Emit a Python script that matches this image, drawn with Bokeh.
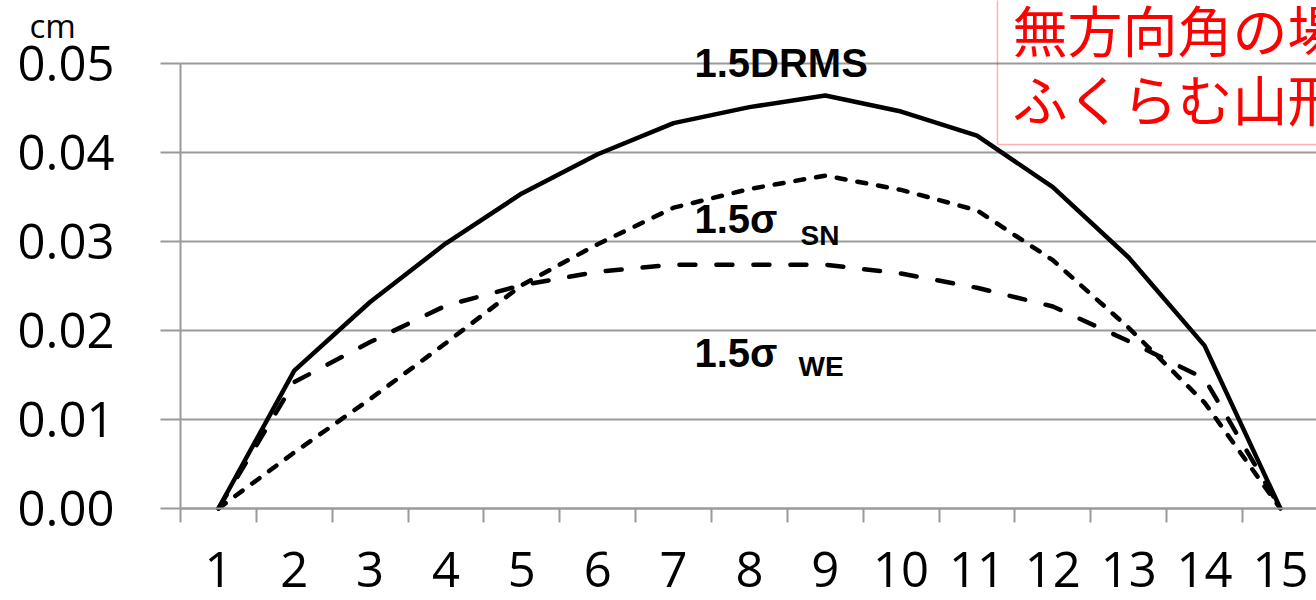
from bokeh.plotting import figure
from bokeh.models import (FixedTicker, Label, BoxAnnotation, NumeralTickFormatter,
                          Range1d)
from bokeh.embed import file_html
from bokeh.resources import INLINE

# ---- data ----
points = list(range(1, 16))
drms = [0.0, 0.0155, 0.0232, 0.0298, 0.0354, 0.0398, 0.0433, 0.0451, 0.0464,
        0.0446, 0.0419, 0.0361, 0.0282, 0.0183, 0.0]
sigma_sn = [0.0, 0.0063, 0.0123, 0.0186, 0.0251, 0.0297, 0.0338, 0.0359, 0.0374,
            0.0358, 0.0335, 0.0279, 0.0203, 0.0119, 0.0]
sigma_we = [0.0, 0.0142, 0.0187, 0.0228, 0.0251, 0.0266, 0.0274, 0.0274, 0.0274,
            0.0264, 0.0248, 0.0227, 0.0188, 0.0146, 0.0]
y_ticks = [0.0, 0.01, 0.02, 0.03, 0.04, 0.05]
x_bounds = [i + 0.5 for i in range(0, 16)]
unit_label = "cm"
label_drms = "1.5DRMS"
label_sigma = "1.5σ"
sub_sn = "SN"
sub_we = "WE"
note_lines = ["無方向角の場", "ふくらむ山形"]

GRID = "#9a9a9a"
TICK_FONT = "Open Sans"
PX_X = 75.857   # pixels per category
PX_Y = 8900.0   # pixels per unit of y
X_START = 0.5 - 180 / PX_X
X_END = 15.476
Y_START = -92 / PX_Y
Y_END = 0.05 + 63 / PX_Y

# the frame fills the whole canvas; axes are pinned inside it
p = figure(width=1316, height=600,
           x_range=Range1d(X_START, X_END), y_range=Range1d(Y_START, Y_END),
           output_backend="svg", toolbar_location=None,
           min_border=0, min_border_left=0, min_border_right=0,
           min_border_top=0, min_border_bottom=0)
p.outline_line_color = None
p.background_fill_color = "white"
p.border_fill_color = "white"

# x axis
xa = p.xaxis[0]
xa.fixed_location = 0
xa.bounds = (0.5, 15.5)
xa.ticker = FixedTicker(ticks=points, minor_ticks=x_bounds)
xa.major_tick_out = 0
xa.major_tick_in = 0
xa.minor_tick_out = 14
xa.minor_tick_in = 0
xa.minor_tick_line_color = GRID
xa.minor_tick_line_width = 2
xa.axis_line_color = GRID
xa.axis_line_width = 2
xa.major_label_text_font = TICK_FONT
xa.major_label_text_font_size = "49px"
xa.major_label_text_color = "black"
xa.major_label_standoff = 29
p.xgrid.visible = False

# y axis
ya = p.yaxis[0]
ya.fixed_location = 0.5
ya.bounds = (0, 0.05)
ya.ticker = FixedTicker(ticks=y_ticks)
ya.formatter = NumeralTickFormatter(format="0.00")
ya.major_tick_out = 20
ya.major_tick_in = 0
ya.major_tick_line_color = GRID
ya.major_tick_line_width = 2
ya.minor_tick_line_color = None
ya.axis_line_color = GRID
ya.axis_line_width = 2
ya.major_label_text_font = TICK_FONT
ya.major_label_text_font_size = "49px"
ya.major_label_text_color = "black"
ya.major_label_standoff = 46

yg = p.ygrid[0]
yg.ticker = FixedTicker(ticks=y_ticks)
yg.grid_line_color = GRID
yg.grid_line_width = 2
if "cross_bounds" in yg.properties():
    yg.cross_bounds = (0.5, X_END + 1)
else:
    # hide the part of the grid left of the plotting area
    p.add_layout(BoxAnnotation(right=0.5, fill_color="white", fill_alpha=1,
                               line_color=None, level="underlay"))

# series
p.line(points, drms, line_color="black", line_width=4.5)
p.line(points, sigma_sn, line_color="black", line_width=4.5,
       line_dash="9 12", line_cap="round")
p.line(points, sigma_we, line_color="black", line_width=4.5,
       line_dash="16 21", line_cap="round")

# labels
def lab(x, y, text, size, font="Liberation Sans", style="bold", color="black"):
    p.add_layout(Label(x=x, y=y, text=text, text_font=font,
                       text_font_size=size, text_font_style=style, text_color=color,
                       text_align="left", text_baseline="alphabetic"))

lab(-1.490, 0.05425, unit_label, "33px", font=TICK_FONT, style="normal")
lab(7.276, 0.05011, label_drms, "40px")
lab(7.276, 0.03258, label_sigma, "40px")
lab(8.673, 0.03073, sub_sn, "28px")
lab(7.276, 0.01742, label_sigma, "40px")
lab(8.647, 0.01590, sub_we, "28px")

# red note box
p.add_layout(BoxAnnotation(left=11.27, right=16.5, bottom=0.0409, top=0.07,
                           fill_alpha=0, fill_color=None,
                           line_color="#ff0000", line_width=1.5))
lab(11.468, 0.05404, note_lines[0], "55px", font="Noto Sans CJK JP", style="normal",
    color="#ff0000")
lab(11.468, 0.04629, note_lines[1], "55px", font="Noto Sans CJK JP", style="normal",
    color="#ff0000")

open("out.html", "w").write(file_html(p, INLINE))
